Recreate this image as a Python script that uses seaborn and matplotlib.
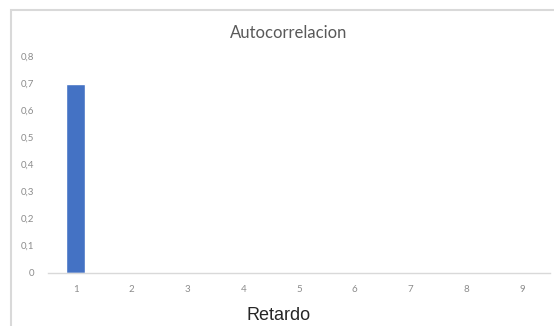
import matplotlib
matplotlib.use("Agg")
import matplotlib.pyplot as plt
from matplotlib.patches import Rectangle
import seaborn as sns
import pandas as pd

# Autocorrelation by lag
lags = ["1", "2", "3", "4", "5", "6", "7", "8", "9"]
autocorr = [0.7, 0, 0, 0, 0, 0, 0, 0, 0]
y_ticks = [0, 0.1, 0.2, 0.3, 0.4, 0.5, 0.6, 0.7, 0.8]
y_tick_labels = ["0", "0,1", "0,2", "0,3", "0,4", "0,5", "0,6", "0,7", "0,8"]

df = pd.DataFrame({"Retardo": lags, "Autocorrelacion": autocorr})

sns.set_theme(style="white")
plt.rcParams["font.family"] = ["Lato", "DejaVu Sans"]

W, H = 554, 326
fig = plt.figure(figsize=(W / 100, H / 100), dpi=100)
ax = fig.add_axes([48 / W, 1 - 272.5 / H, 502 / W, 216 / H])

sns.barplot(data=df, x="Retardo", y="Autocorrelacion", color="#4472C4",
            width=0.34, saturation=1, ax=ax)

ax.set_xlim(-0.5, len(lags) - 0.5)
ax.set_ylim(0, 0.8)
ax.set_yticks(y_ticks)
ax.set_yticklabels(y_tick_labels)
for spine in ["top", "right", "left"]:
    ax.spines[spine].set_visible(False)
ax.spines["bottom"].set_color("#d9d9d9")
ax.spines["bottom"].set_linewidth(1.0)
ax.tick_params(axis="both", length=0, labelsize=7, colors="#8c8c8c")
ax.tick_params(axis="x", pad=9)
ax.tick_params(axis="y", pad=10)
ax.set_ylabel("")
ax.set_xlabel("")

# Chart title and axis title, placed within the chart area
fig.text(288.5 / W, 1 - 32.7 / H, "Autocorrelacion", fontsize=12,
         color="#595959", ha="center", va="center")
fig.text(278.5 / W, 1 - 315 / H, "Retardo", fontsize=13, color="#262626",
         ha="center", va="center", family=["Liberation Sans", "DejaVu Sans"])

# Chart area frame
fig.patches.append(Rectangle((11 / W, -0.05), 1.2, 1 - 10 / H + 0.05,
                             transform=fig.transFigure, fill=False,
                             edgecolor="#d9d9d9", linewidth=1.5))

fig.savefig("out.png", dpi=100)
